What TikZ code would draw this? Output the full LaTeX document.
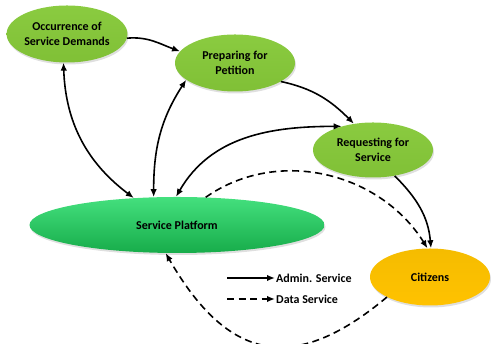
\documentclass[tikz,border=0pt]{standalone}
\usepackage{fontspec}
\setmainfont{Carlito}
\usepackage{tikz}
\usetikzlibrary{shapes.geometric}
\usetikzlibrary{arrows.meta}
\usetikzlibrary{shadows}

\definecolor{stagetop}{HTML}{8ACB40}
\definecolor{stagemid}{HTML}{A8DE5C}
\definecolor{stagebot}{HTML}{80C036}
\definecolor{platop}{HTML}{44E07E}
\definecolor{plamid}{HTML}{22C95C}
\definecolor{plabot}{HTML}{17AC4A}
\definecolor{citop}{HTML}{F5BC00}
\definecolor{citmid}{HTML}{FFCC22}
\definecolor{citbot}{HTML}{FFC200}

\tikzset{
  blob/.style={ellipse,inner sep=0pt,align=center,font=\bfseries\fontsize{12}{15}\selectfont,
    drop shadow={opacity=0.25,shadow xshift=1pt,shadow yshift=-2pt}},
  stage/.style={blob,minimum width=120pt,minimum height=57pt,
    top color=stagetop,middle color=stagemid,bottom color=stagebot},
  platform/.style={blob,minimum width=295pt,minimum height=56pt,
    top color=platop,middle color=plamid,bottom color=plabot},
  citizen/.style={blob,minimum width=120pt,minimum height=57pt,
    top color=citop,middle color=citmid,bottom color=citbot},
  adm/.style={line width=1.6pt,-{Latex[length=8pt,width=6.5pt]}},
  admboth/.style={adm,{Latex[length=8pt,width=6.5pt]}-{Latex[length=8pt,width=6.5pt]}},
  dat/.style={adm,dash pattern=on 7pt off 4.5pt},
  keytext/.style={anchor=west,inner sep=1pt,font=\bfseries\fontsize{12}{15}\selectfont}
}

\begin{document}
\begin{tikzpicture}[x=1pt,y=1pt]
  \useasboundingbox (0,0) rectangle (491,344);

  \node[stage] (occ) at (67,310) {Occurrence of\\Service Demands};
  \node[stage] (prep) at (235,281) {Preparing for\\Petition};
  \node[stage,minimum height=55pt] (req) at (373,194) {Requesting for\\Service};
  \node[platform] (plat) at (177,119) {Service Platform};
  \node[citizen] (cit) at (430,67) {Citizens};

  \draw[adm] (occ.-4) to[out=5,in=160] (prep.168);
  \draw[admboth] (occ.263) to[out=-88,in=143] (plat.148);
  \draw[admboth] (plat.130) to[out=90,in=237] (prep.199);
  \draw[adm] (prep.-22) to[out=-12,in=135] (req.126);
  \draw[admboth] (plat.92) to[out=60,in=180] (req.143);
  \draw[adm] (req.-50) to[out=-45,in=95] (cit.88);
  \draw[dat] (plat.44) to[out=35,in=122] (cit.95);
  \draw[dat] (cit.205) to[out=-140,in=-60,looseness=1.4] (plat.248);

  \coordinate (admkey) at (227,66);
  \node[keytext] (admtxt) at (275,66) {Admin. Service};
  \draw[adm] (admkey) -- (admtxt.west);
  \coordinate (datkey) at (227,45);
  \node[keytext] (dattxt) at (275,45) {Data Service};
  \draw[dat] (datkey) -- (dattxt.west);
\end{tikzpicture}
\end{document}
